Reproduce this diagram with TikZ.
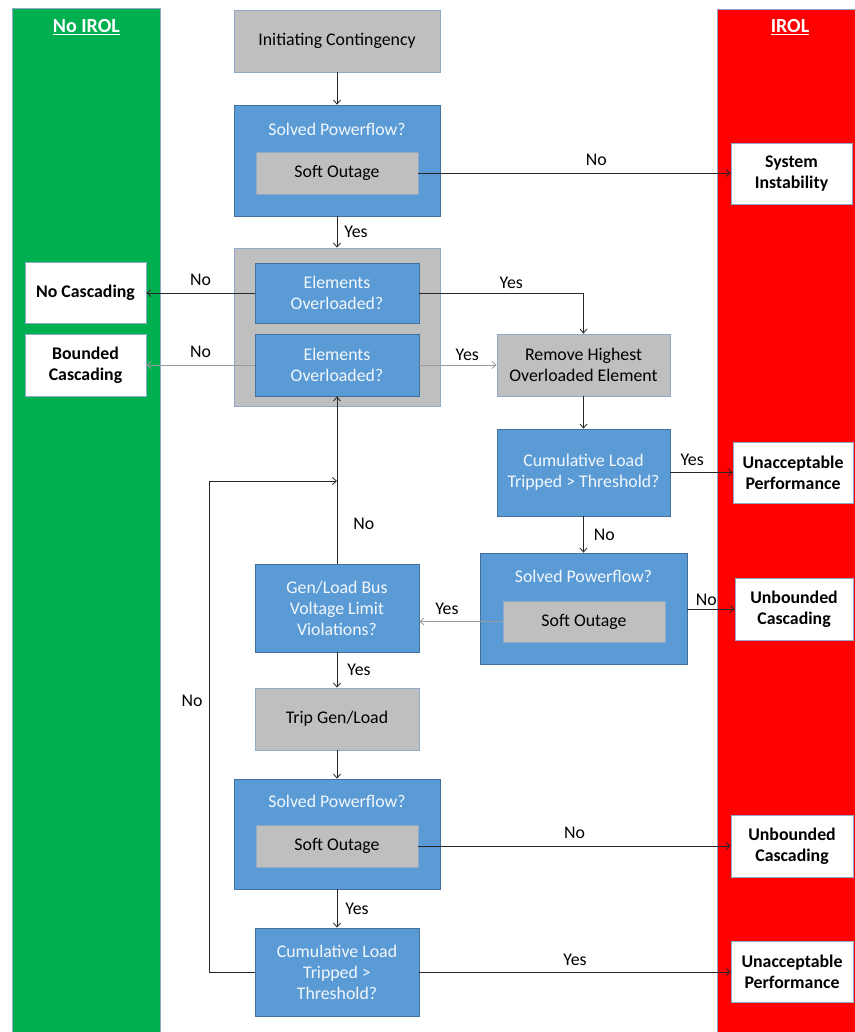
\documentclass[tikz,border=0pt]{standalone}
\usepackage{fontspec}
\setmainfont{Carlito}
\usetikzlibrary{arrows.meta, positioning}
\definecolor{irolgreen}{HTML}{00B050}
\definecolor{irolred}{HTML}{FF0000}
\definecolor{boxblue}{HTML}{5B9BD5}
\definecolor{boxblueline}{HTML}{41719C}
\definecolor{boxgray}{HTML}{BFBFBF}
\definecolor{boxedge}{HTML}{8FAAC8}
\definecolor{flowline}{HTML}{262626}
\definecolor{faintline}{HTML}{9A9A9A}

\begin{document}
\begin{tikzpicture}[
	x=1pt, y=-1pt,
	font=\fontsize{17.8}{21}\selectfont,
	texts/.style = {text=black},
	labeltexts/.style = {text=black, inner sep=2pt},
	titletexts/.style = {text=white!92!boxblue},
	decision/.style = {draw=boxblueline, line width=0.8pt, fill=boxblue, titletexts, align=center},
	action/.style = {draw=boxedge, line width=0.8pt, fill=boxgray, texts, align=center},
	outcome/.style = {draw=boxedge, line width=0.8pt, fill=white, texts, align=center, font=\fontsize{17.8}{21}\selectfont\bfseries},
	band/.style = {draw=boxedge, line width=0.6pt, anchor=north west},
	heading/.style = {text=white, font=\fontsize{20}{24}\selectfont\bfseries},
	flow/.style = {draw=flowline, line width=0.8pt, -{Straight Barb[length=4pt,width=7pt]}},
	faintflow/.style = {flow, draw=faintline}
]
	\useasboundingbox (0,0) rectangle (854,1032);

	% outcome columns
	\node[band, fill=irolgreen, minimum width=148pt, minimum height=1030pt] (noirol) at (12,8) {};
	\node[heading] at ([yshift=-19pt]noirol.north) {\underline{No IROL}};
	\node[band, fill=irolred, minimum width=140pt, minimum height=1030pt] (irol) at (717,9) {};
	\node[heading] at ([yshift=-18pt]irol.north -| 790,0) {\underline{IROL}};

	% first pass
	\node[action, minimum width=206pt, minimum height=62pt] (init) at (337,41) {Initiating Contingency};
	\node[decision, minimum width=206pt, minimum height=111pt] (spfa) at (337,160.5) {};
	\node[titletexts] at ([yshift=-25pt]spfa.north) {Solved Powerflow?};
	\node[action, minimum width=162pt, minimum height=42pt] (softa) at (337,173) {Soft Outage};
	\node[outcome, minimum width=121pt, minimum height=61pt] (sysinst) at (791.5,173.5) {System\\Instability};

	\node[action, minimum width=206pt, minimum height=158pt] (overload) at (337,327) {};
	\node[decision, minimum width=164pt, minimum height=60pt] (elema) at (337,293) {Elements\\Overloaded?};
	\node[decision, minimum width=164pt, minimum height=62pt] (elemb) at (337,365) {Elements\\Overloaded?};
	\node[outcome, minimum width=121pt, minimum height=61pt] (nocasc) at (85.5,292.5) {No Cascading};
	\node[outcome, minimum width=121pt, minimum height=62pt] (boundcasc) at (85.5,365) {Bounded\\Cascading};

	% cascade loop
	\node[action, minimum width=173pt, minimum height=62pt] (remove) at (583.5,365) {Remove Highest\\Overloaded Element};
	\node[decision, minimum width=173pt, minimum height=87pt] (cumla) at (583.5,472.5) {Cumulative Load\\Tripped > Threshold?};
	\node[outcome, minimum width=120pt, minimum height=61pt] (unacca) at (793,472.5) {Unacceptable\\Performance};
	\node[decision, minimum width=207pt, minimum height=111pt] (spfb) at (583.5,608.5) {};
	\node[titletexts] at ([yshift=-24pt]spfb.north) {Solved Powerflow?};
	\node[action, minimum width=162pt, minimum height=41pt] (softb) at (584,621.5) {Soft Outage};
	\node[outcome, minimum width=118pt, minimum height=62pt] (unbounda) at (794,609) {Unbounded\\Cascading};

	\node[decision, minimum width=164pt, minimum height=88pt] (busvolt) at (337,608) {Gen/Load Bus\\Voltage Limit\\Violations?};
	\node[action, minimum width=164pt, minimum height=62pt] (trip) at (337,719) {Trip Gen/Load};
	\node[decision, minimum width=206pt, minimum height=110pt] (spfc) at (337,834) {};
	\node[titletexts] at ([yshift=-23pt]spfc.north) {Solved Powerflow?};
	\node[action, minimum width=162pt, minimum height=42pt] (softc) at (337,846) {Soft Outage};
	\node[outcome, minimum width=122pt, minimum height=62pt] (unboundb) at (792,846) {Unbounded\\Cascading};
	\node[decision, minimum width=164pt, minimum height=88pt] (cumlb) at (337,972) {Cumulative Load\\Tripped >\\Threshold?};
	\node[outcome, minimum width=122pt, minimum height=61pt] (unaccb) at (792,971.5) {Unacceptable\\Performance};

	\coordinate (loopturn) at (209,481);
	\coordinate (rejoin) at (busvolt.north |- loopturn);

	\draw[flow] (init) -- (spfa);
	\draw[flow] (softa.east) -- (softa.east -| sysinst.west)
		node[labeltexts, above=5pt, pos=0.57] {No};
	\draw[flow] (spfa) -- (overload)
		node[labeltexts, right=5pt, midway] {Yes};
	\draw[flow] (elema.west) -- (elema.west -| nocasc.east)
		node[labeltexts, above=5pt, midway] {No};
	\draw[faintflow] (elemb.west) -- (elemb.west -| boundcasc.east)
		node[labeltexts, above=5pt, midway] {No};
	\draw[flow] (elema.east) -| (remove.north)
		node[labeltexts, above=2pt, pos=0.28] {Yes};
	\draw[faintflow] (elemb.east) -- (remove.west)
		node[labeltexts, above=2pt, pos=0.62] {Yes};
	\draw[flow] (remove) -- (cumla);
	\draw[flow] (cumla.east) -- (cumla.east -| unacca.west)
		node[labeltexts, above=4pt, pos=0.35] {Yes};
	\draw[flow] (cumla) -- (spfb)
		node[labeltexts, right=8pt, midway] {No};
	\draw[flow] (spfb.east |- unbounda.west) -- (unbounda.west)
		node[labeltexts, above=1pt, pos=0.4] {No};
	\draw[faintflow] (softb.west) -- (softb.west -| busvolt.east)
		node[labeltexts, above=4pt, pos=0.67] {Yes};
	\draw[flow] (busvolt) -- (elemb)
		node[labeltexts, right=14pt, pos=0.24] {No};
	\draw[flow] (busvolt) -- (trip)
		node[labeltexts, right=8pt, midway] {Yes};
	\draw[flow] (trip) -- (spfc);
	\draw[flow] (softc.east) -- (softc.east -| unboundb.west)
		node[labeltexts, above=5pt, midway] {No};
	\draw[flow] (spfc) -- (cumlb)
		node[labeltexts, right=6pt, midway] {Yes};
	\draw[flow] (cumlb.east) -- (cumlb.east -| unaccb.west)
		node[labeltexts, above=4pt, midway] {Yes};
	\draw[flow] (cumlb.west) -| (loopturn)
		node[labeltexts, left=4pt, pos=0.776] {No} -- (rejoin);
\end{tikzpicture}
\end{document}
